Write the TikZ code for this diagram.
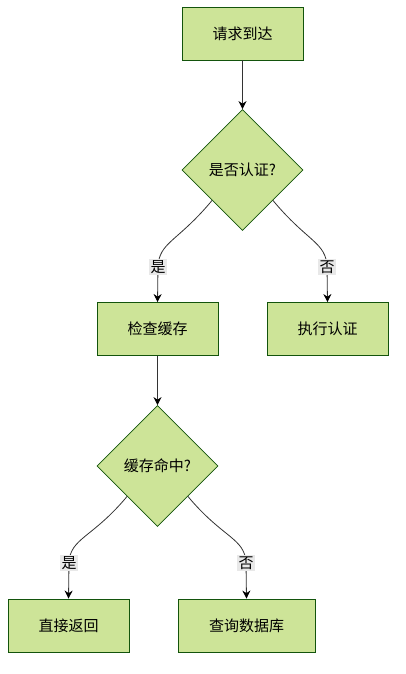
\documentclass[tikz,border=0pt]{standalone}
\usepackage{fontspec}
\setmainfont{Noto Sans CJK SC}
\usetikzlibrary{shapes.geometric,arrows.meta}
\definecolor{leaf}{HTML}{CDE498}
\definecolor{edgegreen}{HTML}{13540C}
\definecolor{tagback}{HTML}{E8E8E8}
\definecolor{wire}{HTML}{333333}
\begin{document}
\begin{tikzpicture}
[x=1pt,y=-1pt,
  boxdecorate/.style={shape=rectangle,draw=edgegreen,fill=leaf,line width=0.9pt,
    minimum height=53pt,inner sep=2pt,font=\fontsize{15}{17}\selectfont},%
  diamonddecorate/.style={shape=diamond,aspect=1,draw=edgegreen,fill=leaf,line width=0.8pt,
    minimum width=121pt,minimum height=121pt,inner sep=0pt,font=\fontsize{15}{17}\selectfont},%
  tagdecorate/.style={fill=tagback,inner sep=1.5pt,font=\fontsize{15}{17}\selectfont},%
  linedecorate/.style={draw=wire,line width=0.8pt,-{Stealth[length=8pt,width=8pt,color=black]}}]
\useasboundingbox (0,0) rectangle (405,674);
%% boxes
\foreach \nodename/\x/\y/\w/\txt in {
  req/242.5/33.5/121/请求到达, check/157.5/329/121/检查缓存,
  login/327.5/329/121/执行认证, direct/68.5/625.5/121/直接返回,
  query/246.5/625.5/137/查询数据库}
{
  \node (\nodename) at (\x,\y) [boxdecorate,minimum width=\w pt] {\txt};
}
%% decisions
\node (auth) at (242.5,170) [diamonddecorate] {是否认证?};
\node (hit) at (157.5,466) [diamonddecorate] {缓存命中?};
%% edges
\draw[linedecorate] (req) -- (auth);
\draw[linedecorate] (check) -- (hit);
\draw[linedecorate] (auth.south west) .. controls +(-35,42) and +(1,-25) .. (158,267)
  node[tagdecorate] {是} -- (check.north);
\draw[linedecorate] (auth.south east) .. controls +(35,42) and +(-1,-25) .. (327,267)
  node[tagdecorate] {否} -- (login.north);
\draw[linedecorate] (hit.south west) .. controls +(-35,42) and +(1,-25) .. (69,563)
  node[tagdecorate] {是} -- (direct.north);
\draw[linedecorate] (hit.south east) .. controls +(35,42) and +(-1,-25) .. (246,563)
  node[tagdecorate] {否} -- (query.north);
\end{tikzpicture}
\end{document}
